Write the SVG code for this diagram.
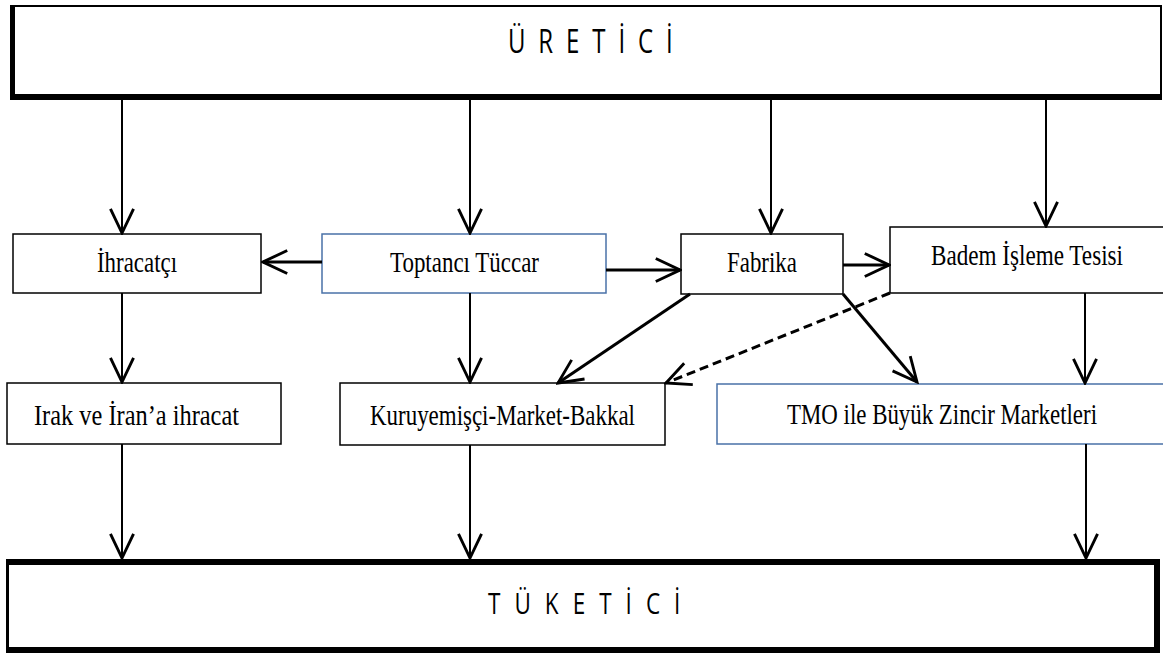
<svg xmlns="http://www.w3.org/2000/svg" width="1163" height="655" viewBox="0 0 1163 655">
<style>
.box{fill:#fff;stroke:#000;stroke-width:1.5}
.bbox{fill:#fff;stroke:#4a72a8;stroke-width:1.5}
.lbl{font-family:'Liberation Serif','Times New Roman',serif;font-size:29px;fill:#000}
.big{font-family:'Open Sans','DejaVu Sans',sans-serif;fill:#000}
.c{fill:none;stroke:#000;stroke-width:2}
.t{fill:none;stroke:#000;stroke-width:3}
.d{fill:none;stroke:#000;stroke-width:3;stroke-dasharray:9 5}
</style>
<defs>
<marker id="ah" markerUnits="userSpaceOnUse" markerWidth="30" markerHeight="30" viewBox="-24 -12 26 24" refX="0" refY="0" orient="auto">
<path d="M-21,-10 L0,0 L-21,10" fill="none" stroke="#000" stroke-width="2.5"/>
</marker>
</defs>
<g id="uretici">
<rect x="10" y="5" width="1152" height="95" fill="#000"/>
<rect x="15" y="7" width="1145" height="87" fill="#fff"/>
<text class="big" transform="scale(0.75,1)" x="677.3" y="53" style="font-size:32px;letter-spacing:17.2px">ÜRETİCİ</text>
</g>
<g id="tuketici">
<rect x="6" y="559" width="1154" height="94" fill="#000"/>
<rect x="9" y="565" width="1145" height="82" fill="#fff"/>
<text class="big" transform="scale(0.75,1)" x="650.7" y="614" style="font-size:30px;letter-spacing:18.7px">TÜKETİCİ</text>
</g>
<g id="ihracatci">
<rect class="box" x="13" y="234" width="248" height="59"/>
<text class="lbl" x="97" y="272" textLength="80" lengthAdjust="spacingAndGlyphs">İhracatçı</text>
</g>
<g id="toptanci">
<rect class="bbox" x="322" y="234" width="284" height="59"/>
<text class="lbl" x="390" y="272" textLength="149" lengthAdjust="spacingAndGlyphs">Toptancı Tüccar</text>
</g>
<g id="fabrika">
<rect class="box" x="681" y="234" width="162" height="60"/>
<text class="lbl" x="727" y="272" textLength="70" lengthAdjust="spacingAndGlyphs">Fabrika</text>
</g>
<g id="badem">
<path class="box" d="M1163,227 H890 V293 H1163"/>
<text class="lbl" x="931" y="265" textLength="192" lengthAdjust="spacingAndGlyphs">Badem İşleme Tesisi</text>
</g>
<g id="irak">
<rect class="box" x="7" y="383" width="274" height="61"/>
<text class="lbl" x="34" y="425" textLength="205" lengthAdjust="spacingAndGlyphs">Irak ve İran’a ihracat</text>
</g>
<g id="kuruyemisci">
<rect class="box" x="340" y="383" width="325" height="62"/>
<text class="lbl" x="370" y="425" textLength="265" lengthAdjust="spacingAndGlyphs">Kuruyemişçi-Market-Bakkal</text>
</g>
<g id="tmo">
<path class="bbox" d="M1163,384 H717 V444 H1163"/>
<text class="lbl" x="787" y="424" textLength="310" lengthAdjust="spacingAndGlyphs">TMO ile Büyük Zincir Marketleri</text>
</g>
<g id="connectors">
<line class="c" x1="122" y1="100" x2="122" y2="233" marker-end="url(#ah)"/>
<line class="c" x1="470" y1="100" x2="470" y2="233" marker-end="url(#ah)"/>
<line class="c" x1="771" y1="100" x2="771" y2="233" marker-end="url(#ah)"/>
<line class="c" x1="1046" y1="100" x2="1046" y2="226" marker-end="url(#ah)"/>
<line class="t" x1="322" y1="262" x2="263" y2="262" marker-end="url(#ah)"/>
<line class="t" x1="606" y1="270" x2="680" y2="270" marker-end="url(#ah)"/>
<line class="t" x1="843" y1="265" x2="889" y2="265" marker-end="url(#ah)"/>
<line class="c" x1="122" y1="293" x2="122" y2="382" marker-end="url(#ah)"/>
<line class="c" x1="470" y1="293" x2="470" y2="382" marker-end="url(#ah)"/>
<line class="c" x1="1085" y1="293" x2="1085" y2="383" marker-end="url(#ah)"/>
<line class="t" x1="690" y1="294" x2="558" y2="383" marker-end="url(#ah)"/>
<line class="t" x1="843" y1="294" x2="917" y2="382" marker-end="url(#ah)"/>
<line class="d" x1="890" y1="293" x2="666" y2="383" marker-end="url(#ah)"/>
<line class="c" x1="122" y1="444" x2="122" y2="558" marker-end="url(#ah)"/>
<line class="c" x1="470" y1="445" x2="470" y2="558" marker-end="url(#ah)"/>
<line class="c" x1="1086" y1="444" x2="1086" y2="558" marker-end="url(#ah)"/>
</g>
</svg>
